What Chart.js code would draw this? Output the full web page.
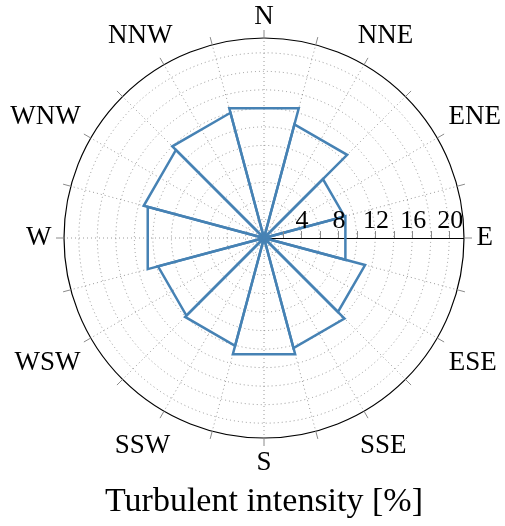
<!DOCTYPE html>
<html>
<head>
<meta charset="utf-8">
<script src="https://cdn.jsdelivr.net/npm/chart.js@4/dist/chart.umd.min.js"></script>
<style>
  html, body { margin: 0; padding: 0; background: #fff; }
  #wrap { width: 505px; height: 526px; }
</style>
</head>
<body>
<div id="wrap"><canvas id="rose" width="505" height="526"></canvas></div>
<script>
// Direction sectors (30° wide) and their turbulent intensity in percent
const directions = ['N', 'NNE', 'ENE', 'E', 'ESE', 'SSE', 'S', 'SSW', 'WSW', 'W', 'WNW', 'NNW'];
const intensity = [14.5, 12.7, 9.0, 9.1, 11.3, 12.3, 13.0, 12.05, 11.85, 13.0, 13.45, 14.0];
// Radial axis
const radialTickLabels = [4, 8, 12, 16, 20];
const radialMinorStep = 2;
const radialMax = 21.6;

// Angular slots every 15°: even slots are sector centres, odd slots are sector edges
const slotCount = directions.length * 2;
const slotLabels = Array.from({ length: slotCount }, (_, i) => (i % 2 === 0 ? directions[i / 2] : ''));
const eastSlot = directions.indexOf('E') * 2;

const gridValues = [];
for (let v = 0; v <= 20; v += radialMinorStep) gridValues.push(v);
gridValues.push(radialMax);

// Each sector is a closed triangle: edge vertex, centre, edge vertex
const sectorDatasets = directions.map((name, k) => {
  const data = new Array(slotCount).fill(null);
  const mid = 2 * k;
  data[mid] = 0;
  data[(mid + slotCount - 1) % slotCount] = intensity[k];
  data[(mid + 1) % slotCount] = intensity[k];
  return {
    label: name,
    data,
    spanGaps: true,
    fill: false,
    borderColor: '#4682b4',
    borderWidth: 2.5,
    tension: 0,
    pointRadius: 0,
    pointHoverRadius: 0
  };
});

const GRID_GREY = 'rgba(120,120,120,0.75)';
const SERIF = '"Liberation Serif", "DejaVu Serif", serif';

// Rim ticks, direction names and the radial axis along east
const polarDecor = {
  id: 'polarDecor',
  beforeDatasetsDraw(chart) {
    const s = chart.scales.r;
    const ctx = chart.ctx;
    const R = s.drawingArea;
    const cx = s.xCenter, cy = s.yCenter;
    ctx.save();
    ctx.strokeStyle = '#000';
    ctx.lineWidth = 1;
    ctx.beginPath();
    ctx.moveTo(cx, cy + 0.5);
    ctx.lineTo(cx + R, cy + 0.5);
    ctx.stroke();
    ctx.restore();
  },
  afterDraw(chart) {
    const s = chart.scales.r;
    const ctx = chart.ctx;
    const R = s.drawingArea;
    const cx = s.xCenter, cy = s.yCenter;
    ctx.save();

    // angular ticks outside the rim
    ctx.strokeStyle = '#8a8a8a';
    ctx.lineWidth = 1;
    for (let i = 0; i < slotCount; i++) {
      const a = s.getPointPosition(i, R);
      const b = s.getPointPosition(i, R + 8);
      ctx.beginPath();
      ctx.moveTo(a.x, a.y);
      ctx.lineTo(b.x, b.y);
      ctx.stroke();
    }

    // direction labels
    ctx.fillStyle = '#000';
    ctx.font = '27px ' + SERIF;
    ctx.textAlign = 'center';
    ctx.textBaseline = 'middle';
    directions.forEach((name, k) => {
      const ang = s.getIndexAngle(2 * k) - Math.PI / 2;
      const ux = Math.cos(ang), uy = Math.sin(ang);
      const hw = ctx.measureText(name).width / 2;
      const hh = 9;
      const diag = Math.abs(Math.sin(2 * ang));
      const extraY = 12 * diag + (uy > 0.01 ? 3 * uy + 3 * diag : 0);
      const extraX = 6 * diag * ux * ux;
      const x = cx + (R + 12.5) * ux + hw * ux + extraX * Math.sign(Math.round(ux * 1000));
      const y = cy + (R + 12.5) * uy + hh * uy + extraY * Math.sign(Math.round(uy * 1000));
      ctx.fillText(name, x, y);
    });

    // radial axis along east: ticks and labels
    ctx.strokeStyle = '#8a8a8a';
    for (let v = radialMinorStep; v < radialMax; v += radialMinorStep) {
      const x = Math.round(cx + s.getDistanceFromCenterForValue(v)) + 0.5;
      ctx.beginPath();
      ctx.moveTo(x, cy);
      ctx.lineTo(x, cy - 7);
      ctx.stroke();
    }
    ctx.font = '26px ' + SERIF;
    ctx.textBaseline = 'alphabetic';
    radialTickLabels.forEach(v => {
      const x = cx + s.getDistanceFromCenterForValue(v);
      ctx.fillText(String(v), x + 1, cy - 10);
    });
    ctx.restore();
  }
};

new Chart(document.getElementById('rose'), {
  type: 'radar',
  data: { labels: slotLabels, datasets: sectorDatasets },
  options: {
    responsive: false,
    animation: false,
    devicePixelRatio: 1,
    layout: { padding: { left: 64, right: 41, top: 38, bottom: 4 } },
    plugins: {
      legend: { display: false },
      tooltip: { enabled: false },
      title: {
        display: true,
        position: 'bottom',
        text: 'Turbulent intensity [%]',
        color: '#000',
        font: { family: SERIF, size: 34, weight: 'normal' },
        padding: { top: 43, bottom: 0 }
      }
    },
    scales: {
      r: {
        min: 0,
        max: radialMax,
        startAngle: 0,
        afterBuildTicks: scale => { scale.ticks = gridValues.map(v => ({ value: v })); },
        ticks: { display: false },
        pointLabels: { display: false },
        grid: {
          circular: true,
          lineWidth: c => (c.tick && c.tick.value === radialMax ? 1.2 : 1),
          color: c => (c.tick && c.tick.value === radialMax ? '#000' : GRID_GREY)
        },
        border: { dash: c => (c.tick && c.tick.value === radialMax ? [] : [1, 3]) },
        angleLines: {
          lineWidth: 1,
          color: c => (c.index === eastSlot ? 'rgba(0,0,0,0)' : GRID_GREY),
          borderDash: [1, 3]
        }
      }
    }
  },
  plugins: [polarDecor]
});
</script>
</body>
</html>
